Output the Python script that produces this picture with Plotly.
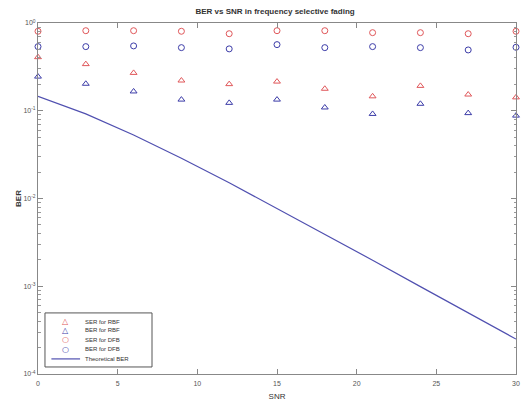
import plotly.graph_objects as go

snr = [0, 3, 6, 9, 12, 15, 18, 21, 24, 27, 30]
ser_rbf = [0.408, 0.340, 0.270, 0.221, 0.201, 0.215, 0.178, 0.146, 0.192, 0.153, 0.142]
ber_rbf = [0.245, 0.203, 0.166, 0.134, 0.123, 0.134, 0.109, 0.092, 0.120, 0.094, 0.088]
ser_dfb = [0.805, 0.817, 0.817, 0.805, 0.755, 0.817, 0.817, 0.776, 0.776, 0.755, 0.805]
ber_dfb = [0.538, 0.538, 0.548, 0.524, 0.507, 0.567, 0.524, 0.538, 0.524, 0.493, 0.529]
ber_theory = [0.146, 0.092, 0.053, 0.0288, 0.0151, 0.0077, 0.0039, 0.00198, 0.00099, 0.000498, 0.00025]

series_names = ["SER for RBF", "BER for RBF", "SER for DFB", "BER for DFB", "Theoretical BER"]
x_ticks = [0, 5, 10, 15, 20, 25, 30]
y_ticks = [1e-4, 1e-3, 1e-2, 1e-1, 1]
y_ticktext = ["10<sup>-4</sup>", "10<sup>-3</sup>", "10<sup>-2</sup>", "10<sup>-1</sup>", "10<sup>0</sup>"]
y_minor_ticks = [m * d for d in [1e-4, 1e-3, 1e-2, 1e-1] for m in range(2, 10)]

RED = "#e0575a"
BLUE = "#3c3ca8"
LINE = "#5050b0"
FONT = "Liberation Sans"

fig = go.Figure()
fig.add_trace(go.Scatter(x=snr, y=ser_rbf, mode="markers", name=series_names[0], cliponaxis=False,
                         marker=dict(symbol="triangle-up-open", size=6, color=RED, line=dict(width=1))))
fig.add_trace(go.Scatter(x=snr, y=ber_rbf, mode="markers", name=series_names[1], cliponaxis=False,
                         marker=dict(symbol="triangle-up-open", size=6, color=BLUE, line=dict(width=1))))
fig.add_trace(go.Scatter(x=snr, y=ser_dfb, mode="markers", name=series_names[2], cliponaxis=False,
                         marker=dict(symbol="circle-open", size=6, color=RED, line=dict(width=1))))
fig.add_trace(go.Scatter(x=snr, y=ber_dfb, mode="markers", name=series_names[3], cliponaxis=False,
                         marker=dict(symbol="circle-open", size=6, color=BLUE, line=dict(width=1))))
fig.add_trace(go.Scatter(x=snr, y=ber_theory, mode="lines", name=series_names[4],
                         line=dict(color=LINE, width=1.2)))

axis_common = dict(showgrid=False, zeroline=False, showline=True, linecolor="#888888",
                   linewidth=1, mirror="ticks", ticks="inside", tickcolor="#888888", automargin=False,
                   tickfont=dict(size=7, color="#555555", family=FONT))

fig.update_xaxes(range=[0, 30], tickvals=x_ticks, ticklen=5, ticklabelstandoff=3, **axis_common,
                 title=dict(text="SNR", font=dict(size=8, color="#333333", family=FONT),
                            standoff=6))
fig.update_yaxes(type="log", range=[-4, 0], tickvals=y_ticks, ticktext=y_ticktext, ticklen=5,
                 minor=dict(ticks="inside", ticklen=2.5, tickcolor="#999999", tickmode="array",
                            tickvals=y_minor_ticks, showgrid=False),
                 **axis_common,
                 title=dict(text="<b>BER</b>", font=dict(size=8, color="#333333", family=FONT),
                            standoff=0))

# compact MATLAB-style legend box (paper coordinates)
box = dict(x0=0.0146, x1=0.2385, y0=0.020, y1=0.174)
rows_y = [0.149, 0.124, 0.097, 0.070, 0.043]
sym_x = 0.058
txt_x = 0.094
symbols = ["\u25b3", "\u25b3", "\u25cb", "\u25cb", None]
sym_colors = [RED, BLUE, RED, BLUE, LINE]

shapes = [dict(type="rect", xref="paper", yref="paper", **box,
               line=dict(color="#555555", width=1), fillcolor="white", layer="above")]
annotations = []
for name, sym, col, yy in zip(series_names, symbols, sym_colors, rows_y):
    if sym is None:
        shapes.append(dict(type="line", xref="paper", yref="paper", x0=0.028, x1=0.088, y0=yy, y1=yy,
                           line=dict(color=col, width=1.2), layer="above"))
    else:
        annotations.append(dict(xref="paper", yref="paper", x=sym_x, y=yy, text=sym, showarrow=False,
                                xanchor="center", yanchor="middle",
                                font=dict(size=8, color=col, family="DejaVu Sans")))
    annotations.append(dict(xref="paper", yref="paper", x=txt_x, y=yy, text=name, showarrow=False,
                            xanchor="left", yanchor="middle",
                            font=dict(size=6, color="#333333", family=FONT)))

fig.update_layout(
    width=526, height=403,
    margin=dict(l=38, r=10, t=23, b=29, autoexpand=False),
    paper_bgcolor="white", plot_bgcolor="white",
    title=dict(text="<b>BER vs SNR in frequency selective fading</b>", x=0.523, xanchor="center",
               y=0.972, yanchor="middle",
               font=dict(size=8, color="#333333", family=FONT)),
    showlegend=False,
    shapes=shapes,
    annotations=annotations,
)

fig.write_html("out.html", config={"displayModeBar": False},
               post_script="document.body.style.margin='0';document.body.style.overflow='hidden';")
